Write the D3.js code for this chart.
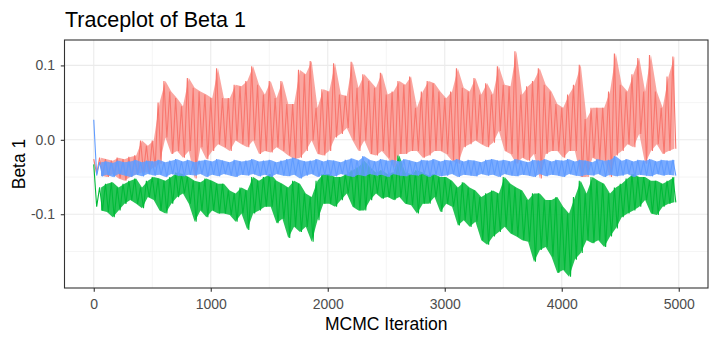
<!DOCTYPE html>
<html>
<head>
<meta charset="utf-8">
<script src="https://cdn.jsdelivr.net/npm/d3@7"></script>
<style>
  body { margin: 0; background: #fff; }
  svg { display: block; font-family: "Liberation Sans", Arial, sans-serif; }
  .axis .domain { display: none; }
  .axis line { stroke: #333333; }
  .axis text { fill: #4d4d4d; font-size: 14px; }
</style>
</head>
<body>
<div id="chart"></div>
<script>
// MCMC draws in bins of 50 iterations (high / low of each bin)
var binWidth = 50;
var iterations = d3.range(0, 5000, binWidth);
var xTicks = [0, 1000, 2000, 3000, 4000, 5000];
var yTicks = [-0.1, 0.0, 0.1];

var chainNames = ["chain 1", "chain 2", "chain 3"];

var redHi = [-0.026,-0.024,-0.026,-0.028,-0.024,-0.026,-0.023,-0.021,-0.001,-0.008,
  -0.001,0.050,0.079,0.065,0.056,0.045,0.083,0.070,0.065,0.061,
  0.056,0.096,0.056,0.056,0.074,0.072,0.079,0.099,0.074,0.061,
  0.079,0.056,0.079,0.048,0.048,0.094,0.088,0.106,0.043,0.068,
  0.065,0.103,0.061,0.059,0.105,0.070,0.088,0.079,0.070,0.090,
  0.061,0.065,0.079,0.074,0.085,0.043,0.065,0.079,0.076,0.065,
  0.056,0.065,0.096,0.070,0.065,0.083,0.061,0.076,0.061,0.099,
  0.074,0.072,0.119,0.061,0.072,0.079,0.096,0.074,0.065,0.048,
  0.043,0.061,0.074,0.101,0.028,0.043,0.043,0.043,0.065,0.116,
  0.074,0.065,0.088,0.110,0.065,0.114,0.065,0.043,0.085,0.112];
var redLo = [-0.046,-0.048,-0.050,-0.046,-0.052,-0.055,-0.050,-0.046,-0.044,-0.044,
  -0.037,-0.032,0.003,-0.019,-0.015,-0.024,-0.015,-0.052,-0.010,-0.026,
  -0.015,-0.006,-0.010,-0.015,-0.001,-0.006,-0.010,-0.001,-0.019,-0.015,
  -0.017,-0.010,-0.015,-0.021,-0.026,-0.024,-0.015,-0.001,-0.019,-0.021,
  -0.015,0.003,0.008,0.016,-0.001,-0.015,-0.001,-0.019,-0.021,-0.015,
  -0.024,-0.037,-0.019,-0.019,-0.015,-0.015,-0.024,-0.021,-0.015,-0.015,
  -0.019,-0.028,-0.032,-0.010,-0.006,-0.001,-0.006,-0.010,-0.004,0.012,
  -0.015,-0.019,-0.032,-0.024,-0.028,-0.019,-0.052,-0.019,-0.015,-0.015,
  -0.024,-0.015,-0.015,-0.050,-0.050,-0.024,-0.028,-0.028,-0.050,-0.021,
  -0.015,-0.006,-0.010,0.008,-0.032,-0.015,-0.006,-0.019,-0.015,-0.012];

var greenHi = [-0.033,-0.064,-0.059,-0.057,-0.064,-0.059,-0.055,-0.052,-0.064,-0.055,
  -0.050,-0.052,-0.055,-0.050,-0.044,-0.046,-0.050,-0.055,-0.057,-0.052,
  -0.055,-0.059,-0.059,-0.068,-0.072,-0.064,-0.068,-0.050,-0.055,-0.050,
  -0.046,-0.055,-0.059,-0.064,-0.055,-0.059,-0.072,-0.077,-0.055,-0.046,
  -0.046,-0.050,-0.050,-0.046,-0.041,-0.037,-0.028,-0.037,-0.044,-0.041,
  -0.046,-0.044,-0.021,-0.044,-0.046,-0.041,-0.044,-0.048,-0.046,-0.050,
  -0.050,-0.055,-0.064,-0.057,-0.064,-0.068,-0.077,-0.072,-0.068,-0.072,
  -0.050,-0.059,-0.064,-0.068,-0.081,-0.072,-0.072,-0.081,-0.081,-0.077,
  -0.090,-0.099,-0.077,-0.055,-0.072,-0.050,-0.055,-0.059,-0.072,-0.064,
  -0.059,-0.052,-0.046,-0.050,-0.050,-0.055,-0.055,-0.059,-0.055,-0.050];
var greenLo = [-0.090,-0.095,-0.097,-0.104,-0.095,-0.086,-0.081,-0.086,-0.092,-0.077,
  -0.081,-0.095,-0.099,-0.086,-0.077,-0.072,-0.086,-0.110,-0.095,-0.104,
  -0.095,-0.099,-0.099,-0.101,-0.110,-0.099,-0.121,-0.099,-0.095,-0.090,
  -0.090,-0.112,-0.106,-0.132,-0.117,-0.124,-0.117,-0.137,-0.108,-0.086,
  -0.086,-0.090,-0.081,-0.072,-0.090,-0.095,-0.095,-0.081,-0.072,-0.079,
  -0.077,-0.081,-0.077,-0.086,-0.088,-0.099,-0.086,-0.086,-0.077,-0.097,
  -0.086,-0.090,-0.115,-0.108,-0.117,-0.110,-0.135,-0.141,-0.130,-0.124,
  -0.117,-0.126,-0.130,-0.135,-0.137,-0.164,-0.148,-0.144,-0.157,-0.179,
  -0.175,-0.184,-0.161,-0.152,-0.135,-0.139,-0.135,-0.144,-0.130,-0.119,
  -0.104,-0.099,-0.095,-0.090,-0.081,-0.099,-0.101,-0.090,-0.086,-0.084];

var blueHi = [0.027,-0.030,-0.029,-0.031,-0.028,-0.030,-0.029,-0.027,-0.030,-0.028,
  -0.029,-0.027,-0.030,-0.028,-0.026,-0.029,-0.027,-0.030,-0.028,-0.027,
  -0.029,-0.026,-0.028,-0.030,-0.027,-0.029,-0.028,-0.026,-0.029,-0.028,
  -0.027,-0.030,-0.028,-0.026,-0.024,-0.027,-0.029,-0.028,-0.026,-0.029,
  -0.027,-0.028,-0.030,-0.027,-0.025,-0.028,-0.022,-0.027,-0.029,-0.026,
  -0.028,-0.027,-0.029,-0.026,-0.028,-0.030,-0.027,-0.028,-0.026,-0.029,
  -0.027,-0.028,-0.026,-0.029,-0.027,-0.028,-0.030,-0.027,-0.026,-0.028,
  -0.027,-0.029,-0.026,-0.028,-0.030,-0.027,-0.028,-0.026,-0.029,-0.027,
  -0.028,-0.026,-0.029,-0.027,-0.028,-0.030,-0.026,-0.028,-0.027,-0.022,
  -0.028,-0.026,-0.029,-0.027,-0.028,-0.026,-0.029,-0.027,-0.028,-0.027];
var blueLo = [-0.048,-0.049,-0.047,-0.050,-0.046,-0.048,-0.050,-0.047,-0.049,-0.046,
  -0.048,-0.047,-0.050,-0.046,-0.048,-0.049,-0.047,-0.048,-0.046,-0.050,
  -0.047,-0.049,-0.046,-0.048,-0.050,-0.047,-0.048,-0.046,-0.049,-0.047,
  -0.050,-0.046,-0.048,-0.049,-0.047,-0.052,-0.048,-0.046,-0.050,-0.047,
  -0.048,-0.049,-0.046,-0.048,-0.050,-0.047,-0.049,-0.046,-0.048,-0.047,
  -0.050,-0.046,-0.048,-0.049,-0.047,-0.048,-0.046,-0.050,-0.047,-0.049,
  -0.048,-0.046,-0.050,-0.047,-0.048,-0.049,-0.046,-0.048,-0.047,-0.050,
  -0.046,-0.048,-0.049,-0.047,-0.048,-0.050,-0.046,-0.049,-0.047,-0.048,
  -0.050,-0.046,-0.048,-0.049,-0.047,-0.048,-0.046,-0.050,-0.047,-0.049,
  -0.048,-0.046,-0.050,-0.047,-0.048,-0.049,-0.046,-0.048,-0.047,-0.048];

var chainColors = ["#F8766D", "#00BA38", "#619CFF"];

var chains = [
  {id: chainNames[0], hi: redHi, lo: redLo, color: chainColors[0], fill: 0.65},
  {id: chainNames[1], hi: greenHi, lo: greenLo, color: chainColors[1], fill: 0.85},
  {id: chainNames[2], hi: blueHi, lo: blueLo, color: chainColors[2], fill: 0.85}
];

var width = 718, height = 343;
var margin = {top: 40, right: 10, bottom: 55, left: 64.5};
var innerW = width - margin.left - margin.right,
    innerH = height - margin.top - margin.bottom;

var svg = d3.select("#chart").append("svg")
    .attr("width", width)
    .attr("height", height);

// ggplot style 5% expansion on both axes
var xExt = [0, 5000],
    yExt = [d3.min(chains, function(c) { return d3.min(c.lo); }),
            d3.max(chains, function(c) { return d3.max(c.hi); })];
var xPad = (xExt[1] - xExt[0]) * 0.05,
    yPad = (yExt[1] - yExt[0]) * 0.05;

var x = d3.scaleLinear().domain([xExt[0] - xPad, xExt[1] + xPad]).range([0, innerW]);
var y = d3.scaleLinear().domain([yExt[0] - yPad, yExt[1] + yPad]).range([innerH, 0]);

var g = svg.append("g").attr("transform", "translate(" + margin.left + "," + margin.top + ")");

// grid
var xMinor = [500, 1500, 2500, 3500, 4500],
    yMinor = [-0.15, -0.05, 0.05];
g.selectAll(".xminor").data(xMinor).enter().append("line")
    .attr("x1", function(d) { return x(d); }).attr("x2", function(d) { return x(d); })
    .attr("y1", 0).attr("y2", innerH)
    .attr("stroke", "#ebebeb").attr("stroke-width", 0.55);
g.selectAll(".yminor").data(yMinor).enter().append("line")
    .attr("y1", function(d) { return y(d); }).attr("y2", function(d) { return y(d); })
    .attr("x1", 0).attr("x2", innerW)
    .attr("stroke", "#ebebeb").attr("stroke-width", 0.55);
g.selectAll(".xmajor").data(xTicks).enter().append("line")
    .attr("x1", function(d) { return x(d); }).attr("x2", function(d) { return x(d); })
    .attr("y1", 0).attr("y2", innerH)
    .attr("stroke", "#ebebeb").attr("stroke-width", 1.1);
g.selectAll(".ymajor").data(yTicks).enter().append("line")
    .attr("y1", function(d) { return y(d); }).attr("y2", function(d) { return y(d); })
    .attr("x1", 0).attr("x2", innerW)
    .attr("stroke", "#ebebeb").attr("stroke-width", 1.1);

// traces: each bin goes high -> low, over a band of the bin range
var line = d3.line()
    .x(function(d) { return x(d.it); })
    .y(function(d) { return y(d.v); });

var band = d3.area()
    .x(function(d) { return x(d.it); })
    .y0(function(d) { return y(d.lo); })
    .y1(function(d) { return y(d.hi); });

chains.forEach(function(c) {
  var pts = [], rows = [];
  iterations.forEach(function(it, i) {
    pts.push({it: it, v: c.hi[i]});
    pts.push({it: it + binWidth / 2, v: c.lo[i]});
    rows.push({it: it + binWidth / 4, hi: c.hi[i], lo: c.lo[i]});
  });
  g.append("path")
      .attr("d", band(rows.slice(1)))
      .attr("fill", c.color)
      .attr("fill-opacity", c.fill);
  g.append("path")
      .attr("d", line(pts))
      .attr("fill", "none")
      .attr("stroke", c.color)
      .attr("stroke-width", 1.1);
});

// panel border
g.append("rect")
    .attr("width", innerW).attr("height", innerH)
    .attr("fill", "none").attr("stroke", "#333333").attr("stroke-width", 1.1);

g.append("g")
    .attr("class", "axis")
    .attr("transform", "translate(0," + innerH + ")")
    .call(d3.axisBottom(x).tickValues(xTicks).tickSize(3.7).tickPadding(7.3).tickFormat(d3.format("d")));

g.append("g")
    .attr("class", "axis")
    .call(d3.axisLeft(y).tickValues(yTicks).tickSize(3.7).tickPadding(5.8).tickFormat(function(d) { return d3.format(".1f")(d).replace("\u2212", "-"); }));

g.selectAll(".axis line").attr("stroke-width", 1.1);

svg.append("text")
    .attr("x", margin.left + innerW / 2).attr("y", 330)
    .attr("text-anchor", "middle")
    .style("font-size", "17.5px")
    .text("MCMC Iteration");

svg.append("text")
    .attr("transform", "translate(25," + (margin.top + innerH / 2) + ") rotate(-90)")
    .attr("text-anchor", "middle")
    .style("font-size", "17.5px")
    .text("Beta 1");

svg.append("text")
    .attr("x", 65).attr("y", 27)
    .style("font-size", "21.5px")
    .text("Traceplot of Beta 1");
</script>
</body>
</html>
